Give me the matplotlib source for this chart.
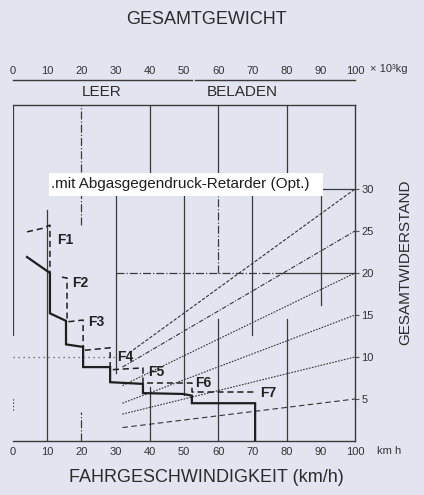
import matplotlib.pyplot as plt
from matplotlib.patches import Rectangle

plt.rcParams['font.family'] = ['Liberation Sans', 'DejaVu Sans']

BG = '#e2e4ef'
INK = '#2b2b2b'
GRID = '#3a3a3a'

# scales
speed_ticks = [0, 10, 20, 30, 40, 50, 60, 70, 80, 90, 100]
weight_ticks = [0, 10, 20, 30, 40, 50, 60, 70, 80, 90, 100]
resist_ticks = [5, 10, 15, 20, 25, 30]

# total resistance staircase (solid, thick)
step_v = [4.1, 10.8, 10.8, 15.5, 15.5, 20.5, 20.5, 28.4, 28.4, 38.0, 38.0, 49.7, 52.3, 52.3, 70.8, 70.8]
step_r = [21.9, 20.0, 15.2, 14.3, 11.5, 11.2, 8.8, 8.8, 7.0, 6.8, 5.7, 5.6, 5.4, 4.5, 4.5, 0.0]

# with retarder, one dashed piece per gear
ret_v = [[4.1, 8.5, 10.8, 10.8], [14.3, 15.8, 15.8], [16.2, 20.5, 20.5],
         [21.0, 28.4, 28.4], [29.2, 38.0, 38.0], [39.2, 52.3, 52.3, 70.8]]
ret_r = [[24.9, 25.3, 25.7, 20.0], [19.5, 19.4, 14.4], [14.2, 14.4, 11.1],
         [10.8, 11.1, 8.8], [8.5, 8.7, 6.7], [6.9, 6.9, 5.8, 5.8]]

gears = ['F1', 'F2', 'F3', 'F4', 'F5', 'F6', 'F7']
gear_v = [12.9, 17.2, 21.9, 30.4, 39.5, 53.2, 72.2]
gear_r = [23.9, 18.8, 14.2, 10.0, 8.2, 6.9, 5.7]

# fan of resistance lines ending on the right scale
fan_end_r = [30, 25, 20, 15, 10, 5]
fan_start_v = [34, 32, 32, 32, 32, 32]
fan_start_r = [10.5, 8.8, 6.6, 4.5, 3.2, 1.6]
fan_ls = [(0, (3, 1.5)), (0, (4, 1.5, 1, 1.5)), (0, (1.5, 1.2)), (0, (1.5, 1.2)), (0, (1.5, 1.2)), (0, (5, 3))]

# drawing grid: vertical lines (x, from, to, style)
grid_x = [20, 40, 60, 80, 10, 30, 50, 60, 60, 70, 80, 90, 40, 20, 0, 0]
grid_lo = [25.7, 31.9, 31.9, 31.9, 0, 8.1, 5.5, 20.0, 0, 12.6, 0, 16.2, 0, 0, 12.6, 3.7]
grid_hi = [40, 40, 40, 40, 27.5, 29.2, 29.2, 29.2, 14.5, 29.2, 14.5, 29.2, 6.4, 3.5, 40, 5.1]
grid_ls = ['-.', '-', '-', '-', '-', '-', '-', '-.', '-', '-', '-', '-', '-', '-.', '-', ':']

# weight bands: LEER / BELADEN
band_lo = [0, 53.2]
band_hi = [52.3, 100]
band_names = ['LEER', 'BELADEN']
band_mid = [26, 67]

fig = plt.figure(figsize=(4.24, 4.95), dpi=100, facecolor=BG)
ax = fig.add_axes([13 / 424, 54 / 495, 342 / 424, 336 / 495])
ax.set_facecolor(BG)
ax.set_xlim(0, 100)
ax.set_ylim(0, 40)

for s in ['top', 'right', 'bottom']:
    ax.spines[s].set_color(GRID)
    ax.spines[s].set_linewidth(1)
ax.spines['left'].set_visible(False)

ax.set_xticks(speed_ticks)
ax.tick_params(axis='x', length=0, pad=4, labelsize=8, labelcolor='#333333')
ax.yaxis.tick_right()
ax.set_yticks(resist_ticks)
ax.tick_params(axis='y', length=3, width=0.8, color='#555555', pad=1.5,
               labelsize=8, labelcolor='#333333')

top = ax.secondary_xaxis(1 + 25 / 336)
top.set_xticks(weight_ticks)
top.tick_params(length=0, pad=3, labelsize=8, labelcolor='#333333')
for s in top.spines.values():
    s.set_visible(False)

tr = ax.get_xaxis_transform()
for lo, hi, name, mid in zip(band_lo, band_hi, band_names, band_mid):
    ax.plot([lo, hi], [1 + 25 / 336] * 2, transform=tr, color=GRID, lw=1, clip_on=False)
    ax.text(mid, 1.039, name, transform=tr, fontsize=11, color=INK, va='center', ha='center')
ax.text(104.5, 1.107, '× 10³kg', transform=tr, fontsize=8, color='#333333', va='center', ha='left')
ax.text(106.4, -0.03, 'km h', transform=tr, fontsize=8, color='#333333', va='center', ha='left')

for x, lo, hi, ls in zip(grid_x, grid_lo, grid_hi, grid_ls):
    ax.plot([x, x], [lo, hi], color=GRID, lw=0.9, ls=ls, zorder=2)

# horizontal helper lines
ax.plot([30, 78], [20, 20], color=GRID, lw=0.9, ls='-.', zorder=2)
ax.plot([78, 100], [20, 20], color=GRID, lw=0.9, ls='-', zorder=2)
ax.plot([90.6, 100], [30, 30], color=GRID, lw=0.9, ls='-', zorder=2)
ax.plot([0, 30], [10, 10], color='#555555', lw=0.9, ls=(0, (1, 3)), zorder=2)

for v0, r0, r1, ls in zip(fan_start_v, fan_start_r, fan_end_r, fan_ls):
    ax.plot([v0, 100], [r0, r1], color='#333333', lw=0.8, ls=ls, zorder=3)

ax.plot(step_v, step_r, color='#1e1e1e', lw=1.6, zorder=4, solid_joinstyle='miter')
for vv, rr in zip(ret_v, ret_r):
    ax.plot(vv, rr, color='#1e1e1e', lw=1.1, ls=(0, (4, 2.5)), zorder=4)

for g, v, r in zip(gears, gear_v, gear_r):
    ax.text(v, r, g, fontsize=10, fontweight='bold', color='#222222', va='center', ha='left', zorder=6)

ax.add_patch(Rectangle((10.5, 29.2), 80.1, 2.7, facecolor='white', edgecolor='none', zorder=5))
ax.text(11.0, 30.55, '.mit Abgasgegendruck-Retarder (Opt.)', fontsize=11, color='#1e1e1e',
        va='center', ha='left', zorder=6)

fig.text(206 / 424, 1 - 20 / 495, 'GESAMTGEWICHT', fontsize=13, color=INK, ha='center', va='center')
fig.text(206 / 424, 1 - 478 / 495, 'FAHRGESCHWINDIGKEIT (km/h)', fontsize=13, color=INK, ha='center', va='center')
fig.text(405 / 424, 1 - 262 / 495, 'GESAMTWIDERSTAND', fontsize=11, color=INK, ha='center', va='center',
         rotation=90)

fig.savefig('out.png', dpi=100, facecolor=BG)
